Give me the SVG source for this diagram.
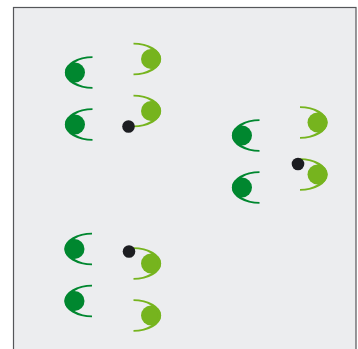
<svg xmlns="http://www.w3.org/2000/svg" xmlns:xlink="http://www.w3.org/1999/xlink" width="358" height="349" viewBox="0 0 358 349">
  <style>
    .frame { fill: #ECEDEF; stroke: #555659; stroke-width: 1.2; }
    .dk { fill: #00872F; }
    .lt { fill: #76B41E; }
    .dot { fill: #1C1D21; }
  </style>
  <defs>
    <g id="darkSym">
      <circle class="dk" cx="0" cy="0" r="10"/>
      <path class="dk" d="M17.5,-16.2 A27.7,16.2 0 0 0 17.5,16.2 L17.5,14.5 A24,14.5 0 0 1 17.5,-14.5 Z"/>
    </g>
    <g id="lightSym">
      <circle class="lt" cx="0" cy="0" r="10"/>
      <path class="lt" d="M-17.5,-16.2 A27.7,16.2 0 0 1 -17.5,16.2 L-17.5,14.5 A24,14.5 0 0 0 -17.5,-14.5 Z"/>
    </g>
  </defs>
  <rect class="frame" x="13.5" y="7.5" width="342.5" height="352"/>
  <g id="connectors"/>
  <g id="g1">
    <g id="g1-dark1"><use xlink:href="#darkSym" href="#darkSym" x="75" y="72.5"/></g>
    <g id="g1-dark2"><use xlink:href="#darkSym" href="#darkSym" x="75" y="124.5"/></g>
    <g id="g1-light1"><use xlink:href="#lightSym" href="#lightSym" x="151" y="59"/></g>
    <g id="g1-light2"><use xlink:href="#lightSym" href="#lightSym" x="151" y="111"/></g>
    <g id="g1-dot"><circle class="dot" cx="128.5" cy="126.5" r="6.3"/></g>
  </g>
  <g id="g2">
    <g id="g2-dark1"><use xlink:href="#darkSym" href="#darkSym" x="242" y="135.5"/></g>
    <g id="g2-dark2"><use xlink:href="#darkSym" href="#darkSym" x="242" y="187.5"/></g>
    <g id="g2-light1"><use xlink:href="#lightSym" href="#lightSym" x="317.5" y="122.5"/></g>
    <g id="g2-light2"><use xlink:href="#lightSym" href="#lightSym" x="317.5" y="174.5"/></g>
    <g id="g2-dot"><circle class="dot" cx="298" cy="164" r="6.3"/></g>
  </g>
  <g id="g3">
    <g id="g3-dark1"><use xlink:href="#darkSym" href="#darkSym" x="74.5" y="249"/></g>
    <g id="g3-dark2"><use xlink:href="#darkSym" href="#darkSym" x="74.5" y="301"/></g>
    <g id="g3-light1"><use xlink:href="#lightSym" href="#lightSym" x="151" y="263.5"/></g>
    <g id="g3-light2"><use xlink:href="#lightSym" href="#lightSym" x="151" y="315.5"/></g>
    <g id="g3-dot"><circle class="dot" cx="129" cy="251.5" r="6.3"/></g>
  </g>
</svg>
